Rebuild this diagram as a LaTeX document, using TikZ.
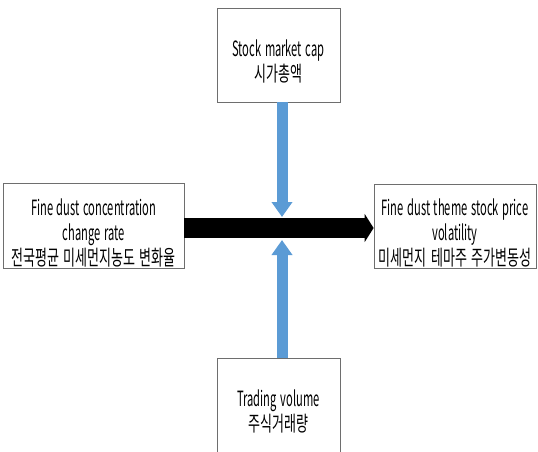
\documentclass[tikz,border=0pt]{standalone}
\usepackage{fontspec}
\setmainfont{Noto Sans CJK KR}[FakeStretch=0.53,WordSpace=1.5]
\newfontfamily\kr{Noto Sans CJK KR}[FakeStretch=0.62,WordSpace=1.5]
\usepackage{tikz}
\usetikzlibrary{arrows.meta,positioning,calc}
\definecolor{boxline}{RGB}{110,110,110}
\definecolor{arrblue}{RGB}{91,155,213}
\newcommand{\tallstrut}{\rule{0pt}{30pt}}

\begin{document}
\begin{tikzpicture}[
  x=1pt,y=-1pt,
  box/.style={draw=boxline, line width=0.8pt, align=center, inner sep=0pt, font=\fontsize{21}{25}\selectfont},
  bigarr/.style={-{Triangle[length=9pt,width=28pt]}, line width=20pt, black},
  bluearr/.style={-{Triangle[length=15pt,width=20pt]}, line width=11pt, arrblue}
]
\useasboundingbox (0,0) rectangle (538,451);
\clip (0,0) rectangle (538,451);
\node[box, minimum width=181pt, minimum height=85pt] (dust) at (93.5,226) {\tallstrut Fine dust concentration\\change rate\\{\kr 전국평균 미세먼지농도 변화율}};
\node[box, minimum width=162pt, minimum height=84pt] (vol) at (455,226) {\tallstrut Fine dust theme stock price\\volatility\\{\kr 미세먼지 테마주 주가변동성}};
\node[box, minimum width=123pt, minimum height=94pt] (cap) at (278.5,55) {\tallstrut Stock market cap\\{\kr 시가총액}};
\node[box, minimum width=123pt, minimum height=94pt] (trade) at (278.5,405) {\tallstrut Trading volume\\{\kr 주식거래량}};
\coordinate (captip) at (282,217);
\coordinate (tradetip) at (282,240);
\draw[bigarr] ([yshift=-2pt]dust.east) -- ([yshift=-2pt]vol.west);
\draw[bluearr] (cap.south -| captip) -- (captip);
\draw[bluearr] (trade.north -| tradetip) -- (tradetip);
\end{tikzpicture}
\end{document}
